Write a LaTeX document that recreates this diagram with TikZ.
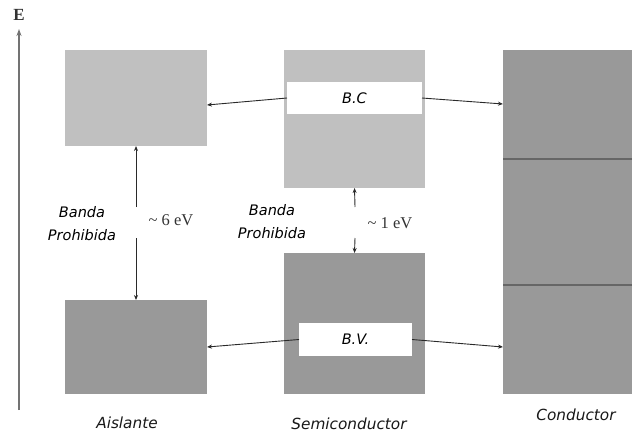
\documentclass[tikz,border=0pt]{standalone}
\usepackage{fontspec}
\setmainfont{Liberation Serif}
\newfontfamily\lblfont{DejaVu Sans}
\usetikzlibrary{calc,arrows.meta}
\definecolor{lightband}{HTML}{C0C0C0}
\definecolor{darkband}{HTML}{999999}
\definecolor{arrowgray}{HTML}{2A2A2A}
\tikzset{
  band/.style={draw=none, inner sep=0pt, outer sep=0pt},
  lightbox/.style={band, fill=lightband},
  darkbox/.style={band, fill=darkband},
  whitebox/.style={band, fill=white, font={\lblfont\itshape\fontsize{14.5}{16}\selectfont}},
  conn/.style={draw=arrowgray, line width=0.9pt, -{Stealth[length=5pt,width=4pt]}},
  gaplbl/.style={font={\lblfont\itshape\fontsize{14.5}{23}\selectfont}, align=center, inner sep=0pt},
  evlbl/.style={font={\fontsize{16.5}{18}\selectfont}, inner sep=0pt, text=black!80},
  matlbl/.style={font={\lblfont\itshape\fontsize{15.3}{17}\selectfont}, inner sep=0pt, text=black!90}
}
\begin{document}
\begin{tikzpicture}[x=1pt,y=-1pt]
\useasboundingbox (0,0) rectangle (632,436);
% axis
\node[font={\fontsize{17}{19}\selectfont\bfseries}, text=black!80, inner sep=0pt] (E) at (19,15) {E};
\coordinate (axbot) at (19,410);
\draw[draw=black!55, line width=1.4pt, -{Stealth[length=7pt,width=5pt]}] (axbot) -- (19,29);
% Aislante
\node[lightbox, minimum width=142pt, minimum height=96pt] (at) at (136,98) {};
\node[darkbox, minimum width=142pt, minimum height=94pt] (ab) at (136,347) {};
% Semiconductor
\node[lightbox, minimum width=141pt, minimum height=138pt] (st) at (354.5,119) {};
\node[darkbox, minimum width=141pt, minimum height=141pt] (sb) at (354.5,323.5) {};
\node[whitebox, minimum width=135pt, minimum height=32pt] (bc) at (354.5,98) {B.C};
\node[whitebox, minimum width=113pt, minimum height=33pt] (bv) at (355.5,339.5) {B.V.};
% Conductor
\node[darkbox, minimum width=129pt, minimum height=344pt] (cd) at (567.5,222) {};
\draw[draw=black!60, line width=1.3pt] ($(cd.north west)+(0,109)$) -- ($(cd.north east)+(0,109)$);
\draw[draw=black!60, line width=1.3pt] ($(cd.north west)+(0,235)$) -- ($(cd.north east)+(0,235)$);
% horizontal connectors
\draw[conn] (bc.west) -- ($(at.east)+(0,7)$);
\draw[conn] (bc.east) -- ($(cd.north west)+(0,54)$);
\draw[conn] (bv.west) -- (ab.east);
\draw[conn] (bv.east) -- ($(cd.north west)+(0,297)$);
% gap arrows
\coordinate (g1a) at (136,207);
\coordinate (g1b) at (136,238);
\coordinate (g2a) at (355,207);
\coordinate (g2b) at (355,238);
\draw[conn] (g1a) -- (at.south);
\draw[conn] (g1b) -- (ab.north);
\draw[conn] (g2a) -- (st.south);
\draw[conn] (g2b) -- (sb.north);
% labels
\node[gaplbl] (bp1) at (82,224) {Banda\\Prohibida};
\node[gaplbl] (bp2) at (272,222) {Banda\\Prohibida};
\node[evlbl] (ev1) at (171,220) {\textasciitilde\ 6 eV};
\node[evlbl] (ev2) at (390,223) {\textasciitilde\ 1 eV};
\node[matlbl] (m1) at (127,423) {Aislante};
\node[matlbl] (m2) at (349,424) {Semiconductor};
\node[matlbl] (m3) at (576,415) {Conductor};
\end{tikzpicture}
\end{document}
